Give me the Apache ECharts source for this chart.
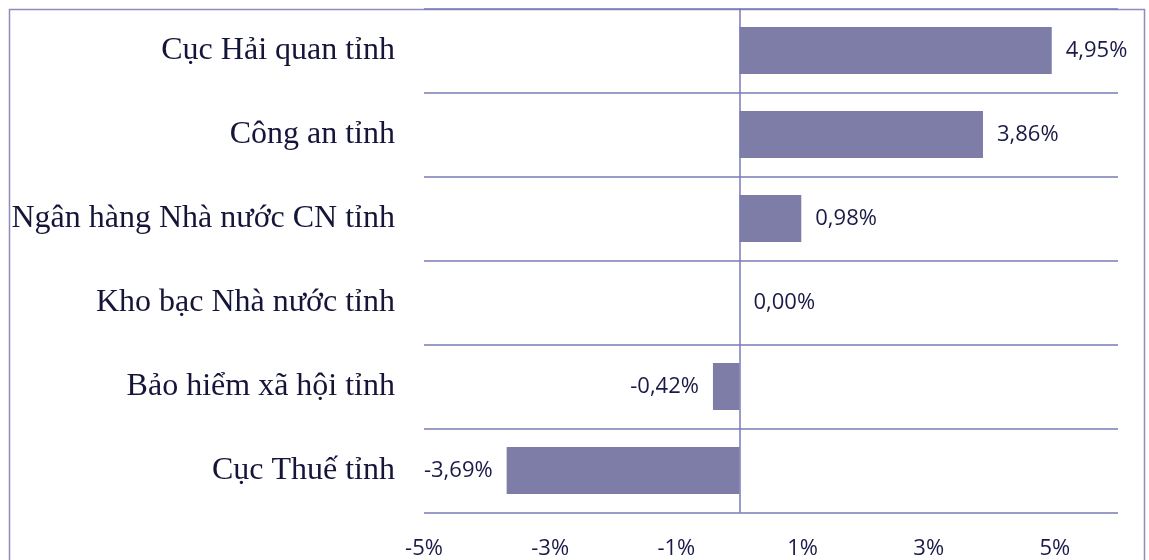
<!DOCTYPE html>
<html>
<head>
<meta charset="utf-8">
<script src="https://cdn.jsdelivr.net/npm/echarts@6/dist/echarts.min.js"></script>
<style>
  html, body { margin: 0; padding: 0; background: #fff; }
  #chart { width: 1149px; height: 560px; }
</style>
</head>
<body>
<div id="chart"></div>
<script>
// categories, bottom to top (as ECharts draws a category y axis)
const units = [
  'Cục Thuế tỉnh',
  'Bảo hiểm xã hội tỉnh',
  'Kho bạc Nhà nước tỉnh',
  'Ngân hàng Nhà nước CN tỉnh',
  'Công an tỉnh',
  'Cục Hải quan tỉnh',
]
const changePct = [-3.69, -0.42, 0.0, 0.98, 3.86, 4.95]

const axisMin = -5
const axisMax = 6
const axisStep = 2

const ink = '#1a1a48'
const lineColor = '#7a7ab8'
const barColor = '#7d7da8'

const fmtPct = (v, digits) => v.toFixed(digits).replace('.', ',') + '%'

const chart = echarts.init(document.getElementById('chart'))

chart.setOption({
  animation: false,
  grid: { left: 424, right: 31, top: 8.5, bottom: 47.5 },
  graphic: [
    {
      type: 'rect',
      shape: { x: 9.5, y: 9.5, width: 1135, height: 600 },
      style: { fill: null, stroke: '#8c8cc0', lineWidth: 1.5 },
      silent: true,
      z: 0,
    },
  ],
  xAxis: {
    type: 'value',
    min: axisMin,
    max: axisMax,
    interval: axisStep,
    splitLine: { show: false },
    axisLine: { show: false },
    axisTick: { show: false },
    axisLabel: {
      showMaxLabel: false,
      formatter: v => v + '%',
      color: ink,
      fontFamily: 'Open Sans',
      fontSize: 22,
      margin: 25,
    },
  },
  yAxis: {
    type: 'category',
    data: units,
    axisLine: { show: false },
    axisTick: { show: false },
    splitLine: {
      show: true,
      lineStyle: { color: lineColor, width: 1.5 },
    },
    axisLabel: {
      color: '#15153a',
      fontFamily: 'Liberation Serif',
      fontSize: 32,
      margin: 29,
    },
  },
  series: [
    {
      type: 'bar',
      data: changePct.map(v => ({
        value: v,
        label: { position: v < 0 ? 'left' : 'right' },
      })),
      barWidth: '56%',
      itemStyle: { color: barColor },
      label: {
        show: true,
        formatter: p => fmtPct(p.value, 2),
        color: ink,
        fontFamily: 'Open Sans',
        fontSize: 22,
        distance: 14,
      },
      markLine: {
        silent: true,
        symbol: 'none',
        label: { show: false },
        lineStyle: { color: lineColor, width: 1.5, type: 'solid' },
        data: [{ xAxis: 0 }],
      },
    },
  ],
})
</script>
</body>
</html>
